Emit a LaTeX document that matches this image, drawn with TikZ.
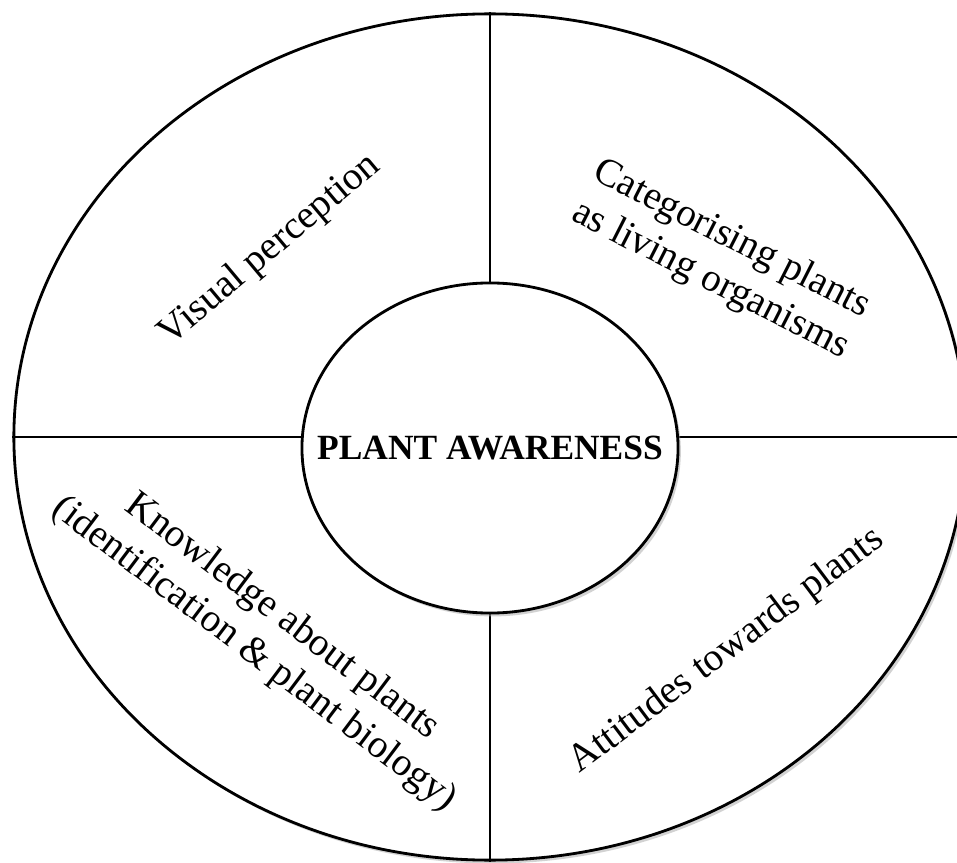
\documentclass[tikz,border=0pt]{standalone}
\usepackage{fontspec}
\setmainfont{Liberation Serif}
\usetikzlibrary{shapes.geometric,shadows}

\begin{document}
\begin{tikzpicture}[x=0.0125cm, y=-0.0125cm, every node/.style={font=\fontsize{14}{16.5}\selectfont}, ring/.style={draw, ellipse, line width=1pt, fill=white, inner sep=0pt, drop shadow={shadow xshift=1pt, shadow yshift=-1.2pt, fill=black!35}}, sector/.style={align=center, inner sep=0pt}]
	\useasboundingbox (0,0) rectangle (957,863);
	\node[ring, minimum width=11.9cm, minimum height=10.575cm] (outer) at (490,437) {};
	\draw[line width=0.9pt] (outer.north) -- (outer.south);
	\draw[line width=0.9pt] (outer.west) -- (outer.east);
	\node[ring, minimum width=4.7cm, minimum height=4.125cm] (core) at (490,448) {};
	\node[font=\fontsize{12.6}{14}\selectfont\bfseries] (title) at (core.center) {PLANT AWARENESS};
	\node[sector, rotate=40] (visual) at (270,250) {Visual perception};
	\node[sector, rotate=-27] (categ) at (721,260) {Categorising plants\\as living organisms};
	\node[sector, rotate=-37] (knowl) at (268,636) {Knowledge about plants\\(identification \& plant biology)};
	\node[sector, rotate=37] (attit) at (727,651) {Attitudes towards plants};
\end{tikzpicture}
\end{document}
